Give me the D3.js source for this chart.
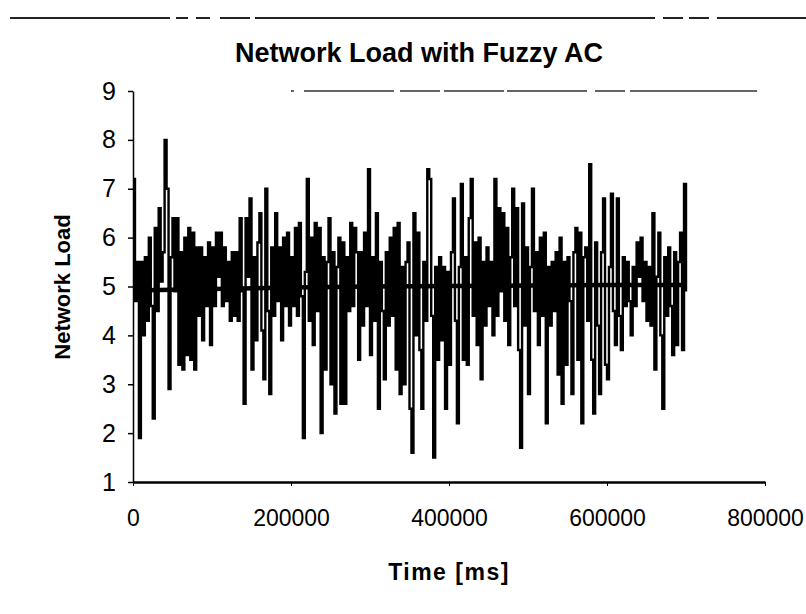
<!DOCTYPE html>
<html>
<head>
<meta charset="utf-8">
<script src="https://cdn.jsdelivr.net/npm/d3@7"></script>
<style>
body { margin: 0; background: #fff; }
text { font-family: Arial, 'Liberation Sans', sans-serif; fill: #000; }
</style>
</head>
<body>
<script>
// network load samples, one every sampleMs
var loadValues = [
  7.2, 4.7, 5.5, 1.9, 5.5, 4.0, 5.6, 4.3, 6.0, 4.6,
  2.3, 6.2, 4.5, 6.6, 5.1, 5.7, 8.0, 7.0, 2.9, 5.6,
  6.4, 4.9, 6.4, 3.4, 5.7, 3.3, 6.0, 3.6, 6.2, 3.5,
  6.1, 3.3, 5.8, 4.4, 5.8, 3.9, 5.6, 4.6, 5.9, 3.8,
  5.8, 4.6, 6.1, 5.2, 6.1, 4.6, 5.8, 4.7, 5.5, 4.3,
  5.7, 4.4, 5.7, 4.3, 6.4, 4.9,
  2.6, 6.4, 5.2, 6.8, 3.3, 5.6, 3.9, 5.9, 6.5, 4.1,
  3.1, 7.0, 4.5, 2.8, 5.8, 4.4, 6.5, 4.7, 5.8, 3.9,
  6.0, 4.6, 6.1, 4.2, 5.6, 4.6, 6.2, 4.4, 6.3, 4.8,
  1.9, 5.3, 7.2, 4.3, 6.0, 3.8, 6.3, 4.5, 6.2, 2.0,
  5.6, 3.3, 5.5, 6.4, 3.0, 5.7, 2.4, 5.4, 6.0, 2.6,
  5.9, 2.6, 5.6, 4.5, 6.3, 4.6, 6.2,
  5.7, 3.5, 5.7, 4.2, 6.1, 4.6, 7.4, 3.6, 5.6, 4.3,
  6.5, 2.5, 5.5, 4.5, 3.1, 5.7, 4.2, 6.0, 4.4, 6.2,
  3.3, 6.3, 2.8, 5.4, 3.0, 5.5, 5.9, 2.5, 1.6, 6.5,
  4.0, 6.1, 3.7, 2.5, 5.5, 4.3, 7.4, 7.2, 4.4, 1.5,
  5.4, 3.5, 5.6, 3.9, 5.4, 2.5, 5.3, 3.4, 5.7, 6.8,
  4.3, 2.2, 5.4, 7.1, 3.5, 5.6,
  3.4, 6.4, 7.2, 4.4, 5.9, 3.8, 6.0, 3.1, 5.5, 4.2,
  5.8, 4.6, 5.5, 4.0, 7.2, 4.4, 6.6, 4.9, 6.5, 4.3,
  6.2, 3.8, 5.6, 7.0, 4.6, 6.6, 3.7, 1.7, 6.7, 4.2,
  5.8, 2.8, 5.4, 7.0, 4.5, 5.7, 3.8, 6.0, 4.4, 6.1,
  2.2, 5.4, 4.2, 5.5, 4.5, 5.7, 3.2, 6.0, 2.6, 5.5,
  3.4, 5.6, 4.7, 2.8, 5.7, 6.2, 3.5,
  6.1, 2.2, 5.6, 5.8, 4.3, 7.5, 3.5, 2.4, 5.9, 4.2,
  2.8, 5.7, 6.8, 3.4, 3.1, 5.4, 6.9, 4.5, 3.8, 6.8,
  4.4, 3.7, 5.6, 4.6, 5.5, 4.7, 4.0, 5.4, 4.6, 5.9,
  5.2, 6.0, 4.7, 5.5, 4.3, 5.4, 4.2, 6.5, 3.3, 5.2,
  6.1, 4.0, 2.5, 5.6, 4.4, 5.8, 4.6, 3.6, 5.7, 3.8,
  5.5, 6.1, 3.7, 7.1, 4.9
];
var sampleMs = 2500;

// running average (thick line)
var avgTimes = [0, 100000, 200000, 300000, 400000, 500000, 600000, 700000];
var avgValues = [4.92, 4.95, 4.98, 5.0, 5.01, 5.02, 5.03, 5.03];

var xTicks = [0, 200000, 400000, 600000, 800000];
var yTicks = [1, 2, 3, 4, 5, 6, 7, 8, 9];

var svg = d3
  .select('body')
  .append('svg')
  .attr('width', 806)
  .attr('height', 614);

var x = d3.scaleLinear().domain([0, 800000]).range([133, 765]);
var y = d3.scaleLinear().domain([1, 9]).range([482, 91]);

// scanned page edge
svg
  .append('line')
  .attr('x1', 10)
  .attr('x2', 806)
  .attr('y1', 18)
  .attr('y2', 18)
  .attr('stroke', '#222')
  .attr('stroke-width', 2)
  .attr('stroke-dasharray', '160,6,12,8,14,10,30,5,400,8,20,6,20,8,300');

svg
  .append('text')
  .attr('x', 419)
  .attr('y', 62)
  .attr('text-anchor', 'middle')
  .attr('font-size', 27)
  .attr('font-weight', 'bold')
  .text('Network Load with Fuzzy AC');

// broken plot-area top border from the scan
svg
  .append('line')
  .attr('x1', x(200000))
  .attr('x2', x(790000))
  .attr('y1', y(9))
  .attr('y2', y(9))
  .attr('stroke', '#333')
  .attr('stroke-width', 1.5)
  .attr('stroke-dasharray', '3,10,90,6,40,4,60,3,80,8,30,5,200');

var line = d3
  .line()
  .curve(d3.curveStepAfter)
  .x(function (d, i) {
    return x(i * sampleMs);
  })
  .y(function (d) {
    return y(d);
  });

svg
  .append('path')
  .datum(loadValues)
  .attr('d', line)
  .attr('fill', 'none')
  .attr('stroke', '#000')
  .attr('stroke-width', 2.4)
  .attr('stroke-linejoin', 'miter');

var avgLine = d3
  .line()
  .x(function (d, i) {
    return x(avgTimes[i]);
  })
  .y(function (d) {
    return y(d);
  });

svg
  .append('path')
  .datum(avgValues)
  .attr('d', avgLine)
  .attr('fill', 'none')
  .attr('stroke', '#000')
  .attr('stroke-width', 4.5);

var yAxis = svg
  .append('g')
  .attr('transform', 'translate(' + x(0) + ',0)')
  .call(
    d3.axisLeft(y).tickValues(yTicks).tickSize(5).tickSizeOuter(0).tickPadding(12)
  );
yAxis.selectAll('text').attr('font-size', 25).style('font-family', 'Arial, Liberation Sans, sans-serif');
yAxis.selectAll('path, line').attr('stroke', '#000').attr('stroke-width', 1.5);

var xAxis = svg
  .append('g')
  .attr('transform', 'translate(0,' + y(1) + ')')
  .call(
    d3
      .axisBottom(x)
      .tickValues(xTicks)
      .tickSize(4)
      .tickSizeOuter(0)
      .tickPadding(24)
      .tickFormat(d3.format('d'))
  );
xAxis.selectAll('text').attr('font-size', 23).style('font-family', 'Arial, Liberation Sans, sans-serif');
xAxis.selectAll('path').attr('stroke', '#000').attr('stroke-width', 2.5);
xAxis.selectAll('line').attr('stroke', '#000').attr('stroke-width', 1);

svg
  .append('text')
  .attr('transform', 'translate(70,287) rotate(-90)')
  .attr('text-anchor', 'middle')
  .attr('font-size', 22)
  .attr('font-weight', 'bold')
  .text('Network Load');

svg
  .append('text')
  .attr('x', 449)
  .attr('y', 580)
  .attr('text-anchor', 'middle')
  .attr('font-size', 23)
  .attr('font-weight', 'bold')
  .attr('letter-spacing', 1.5)
  .text('Time [ms]');
</script>
</body>
</html>
